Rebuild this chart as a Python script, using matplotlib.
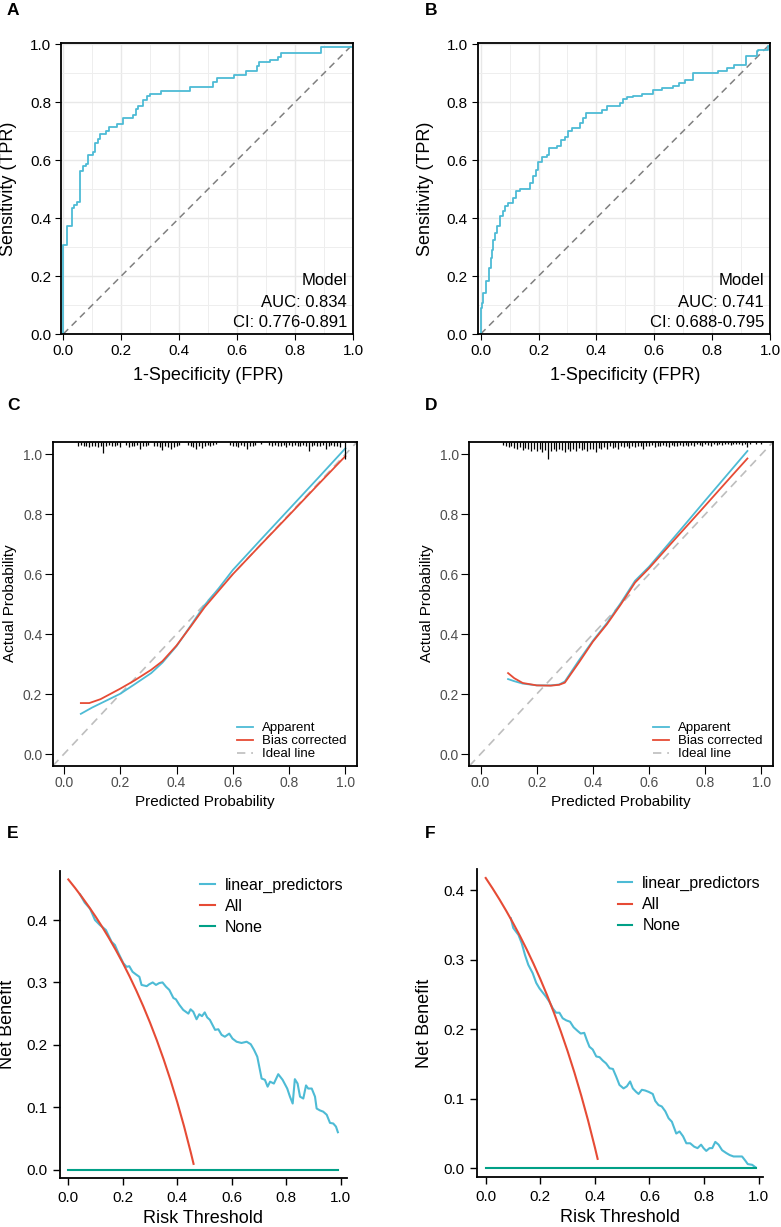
"""ROC, calibration and decision curves for the two cohorts (panels A-F)."""

import matplotlib

matplotlib.use("Agg")
import matplotlib.pyplot as plt
from matplotlib.ticker import FormatStrFormatter, MultipleLocator

plt.rcParams["font.family"] = ["Liberation Sans", "DejaVu Sans"]

BLUE = "#4DBBD5"
RED = "#E64B35"
TEAL = "#00A087"

# ---- ROC curves (A: training, B: validation) ----
roc_a_fpr = [0, 0, 0.0115, 0.029, 0.037, 0.046, 0.0576, 0.067, 0.078, 0.084, 0.101,
             0.109, 0.121, 0.127, 0.148, 0.159, 0.184, 0.205, 0.242, 0.251, 0.259,
             0.276, 0.288, 0.3, 0.336, 0.438, 0.518, 0.53, 0.588, 0.631, 0.668,
             0.677, 0.712, 0.741, 0.752, 0.891, 1.0]
roc_a_tpr = [0, 0.308, 0.371, 0.434, 0.446, 0.457, 0.563, 0.578, 0.587, 0.616, 0.628,
             0.659, 0.672, 0.69, 0.701, 0.713, 0.724, 0.745, 0.756, 0.777, 0.787,
             0.808, 0.82, 0.829, 0.84, 0.851, 0.871, 0.883, 0.894, 0.906, 0.925,
             0.937, 0.946, 0.957, 0.969, 0.989, 1.0]
roc_b_fpr = [0, 0, 0.0035, 0.009, 0.018, 0.029, 0.035, 0.038, 0.044, 0.05, 0.055,
             0.065, 0.078, 0.084, 0.096, 0.113, 0.122, 0.136, 0.17, 0.18, 0.191,
             0.197, 0.211, 0.228, 0.237, 0.263, 0.276, 0.291, 0.303, 0.315, 0.343,
             0.353, 0.364, 0.384, 0.418, 0.435, 0.482, 0.493, 0.505, 0.528, 0.556,
             0.597, 0.626, 0.664, 0.687, 0.706, 0.735, 0.821, 0.85, 0.876, 0.917,
             0.954, 0.96, 0.994, 1.0]
roc_b_tpr = [0, 0.09, 0.107, 0.141, 0.182, 0.228, 0.262, 0.291, 0.325, 0.348, 0.371,
             0.406, 0.423, 0.44, 0.452, 0.469, 0.492, 0.5, 0.521, 0.544, 0.567,
             0.595, 0.61, 0.618, 0.641, 0.649, 0.67, 0.679, 0.699, 0.71, 0.728,
             0.745, 0.762, 0.764, 0.774, 0.785, 0.797, 0.81, 0.817, 0.822, 0.829,
             0.843, 0.848, 0.856, 0.866, 0.877, 0.902, 0.909, 0.917, 0.929, 0.96,
             0.975, 0.98, 0.992, 1.0]
roc_a_auc = "AUC: 0.834"
roc_a_ci = "CI: 0.776-0.891"
roc_b_auc = "AUC: 0.741"
roc_b_ci = "CI: 0.688-0.795"

# ---- Calibration curves (C, D) ----
cal_c_app_x = [0.06, 0.10, 0.15, 0.20, 0.25, 0.31, 0.35, 0.40, 0.45, 0.50, 0.55, 0.60,
               0.70, 0.80, 0.90, 1.00]
cal_c_app_y = [0.134, 0.155, 0.178, 0.201, 0.232, 0.27, 0.305, 0.36, 0.428, 0.497,
               0.553, 0.614, 0.716, 0.817, 0.918, 1.02]
cal_c_bc_x = [0.06, 0.09, 0.13, 0.20, 0.25, 0.31, 0.35, 0.40, 0.45, 0.50, 0.55, 0.60,
              0.70, 0.80, 0.90, 1.00]
cal_c_bc_y = [0.17, 0.17, 0.183, 0.218, 0.245, 0.281, 0.31, 0.362, 0.425, 0.49,
              0.545, 0.6, 0.699, 0.797, 0.896, 0.994]
cal_d_x = [0.098, 0.12, 0.15, 0.20, 0.25, 0.28, 0.30, 0.35, 0.40, 0.45, 0.50, 0.55,
           0.60, 0.70, 0.80, 0.90, 0.95]
cal_d_app_y = [0.25, 0.243, 0.235, 0.229, 0.229, 0.232, 0.242, 0.312, 0.378, 0.437,
               0.505, 0.578, 0.625, 0.735, 0.846, 0.956, 1.011]
cal_d_bc_y = [0.27, 0.253, 0.237, 0.229, 0.228, 0.231, 0.238, 0.305, 0.375, 0.433,
              0.5, 0.572, 0.62, 0.725, 0.829, 0.934, 0.986]

# distribution of predicted probabilities (rug along the top)
rug_c_x = [0.05, 0.06, 0.07, 0.08, 0.09, 0.10, 0.11, 0.12, 0.13, 0.14, 0.15, 0.16,
           0.17, 0.18, 0.19, 0.20, 0.22, 0.23, 0.24, 0.25, 0.26, 0.27, 0.28, 0.29,
           0.30, 0.32, 0.33, 0.34, 0.35, 0.36, 0.37, 0.38, 0.39, 0.40, 0.41, 0.44,
           0.45, 0.46, 0.47, 0.48, 0.49, 0.50, 0.51, 0.52, 0.53, 0.54, 0.59, 0.60,
           0.61, 0.62, 0.63, 0.64, 0.65, 0.66, 0.67, 0.68, 0.70, 0.73, 0.74, 0.75,
           0.76, 0.77, 0.78, 0.79, 0.80, 0.81, 0.82, 0.83, 0.84, 0.85, 0.86, 0.87,
           0.88, 0.89, 0.90, 0.91, 0.92, 0.93, 0.94, 0.95, 0.96, 0.97, 0.98, 1.00]
rug_c_h = [0.011, 0.008, 0.014, 0.011, 0.017, 0.014, 0.011, 0.017, 0.014, 0.037, 0.014,
           0.008, 0.014, 0.011, 0.008, 0.017, 0.008, 0.017, 0.011, 0.014, 0.008, 0.022,
           0.014, 0.011, 0.008, 0.014, 0.011, 0.017, 0.026, 0.014, 0.017, 0.024, 0.017,
           0.011, 0.008, 0.008, 0.014, 0.017, 0.024, 0.011, 0.019, 0.011, 0.008, 0.014,
           0.008, 0.006, 0.008, 0.014, 0.011, 0.017, 0.008, 0.014, 0.022, 0.011, 0.014,
           0.008, 0.007, 0.008, 0.011, 0.008, 0.014, 0.011, 0.008, 0.017, 0.008, 0.011,
           0.008, 0.014, 0.011, 0.008, 0.014, 0.028, 0.011, 0.008, 0.014, 0.011, 0.008,
           0.022, 0.011, 0.008, 0.014, 0.011, 0.017, 0.055]
rug_d_x = [0.08, 0.09, 0.10, 0.11, 0.12, 0.13, 0.14, 0.15, 0.16, 0.17, 0.18, 0.19,
           0.20, 0.21, 0.22, 0.23, 0.24, 0.25, 0.26, 0.27, 0.28, 0.29, 0.30, 0.31,
           0.32, 0.33, 0.34, 0.35, 0.36, 0.37, 0.38, 0.39, 0.40, 0.41, 0.42, 0.43,
           0.44, 0.45, 0.46, 0.47, 0.48, 0.49, 0.50, 0.51, 0.52, 0.53, 0.54, 0.55,
           0.56, 0.57, 0.58, 0.59, 0.60, 0.61, 0.62, 0.63, 0.64, 0.65, 0.66, 0.67,
           0.68, 0.69, 0.70, 0.71, 0.72, 0.73, 0.74, 0.75, 0.76, 0.77, 0.78, 0.79,
           0.80, 0.81, 0.82, 0.83, 0.84, 0.85, 0.86, 0.87, 0.88, 0.89, 0.90, 0.91,
           0.92, 0.93, 0.94, 0.95, 0.96, 0.98, 1.00]
rug_d_h = [0.008, 0.011, 0.016, 0.014, 0.019, 0.024, 0.016, 0.026, 0.019, 0.024, 0.028,
           0.021, 0.030, 0.024, 0.032, 0.026, 0.057, 0.028, 0.021, 0.030, 0.024, 0.026,
           0.032, 0.021, 0.028, 0.024, 0.030, 0.019, 0.026, 0.024, 0.028, 0.021, 0.024,
           0.032, 0.019, 0.024, 0.016, 0.021, 0.014, 0.019, 0.016, 0.021, 0.014, 0.016,
           0.011, 0.019, 0.014, 0.016, 0.011, 0.014, 0.024, 0.011, 0.014, 0.008, 0.016,
           0.011, 0.014, 0.008, 0.011, 0.016, 0.008, 0.011, 0.014, 0.008, 0.011, 0.008,
           0.014, 0.008, 0.011, 0.007, 0.008, 0.011, 0.007, 0.008, 0.011, 0.007, 0.008,
           0.006, 0.008, 0.007, 0.006, 0.008, 0.006, 0.007, 0.006, 0.008, 0.006, 0.016,
           0.006, 0.006, 0.006]

# ---- Decision curves (E, F) ----
dca_e_lp_x = [0.043, 0.06, 0.08, 0.098, 0.116, 0.138, 0.159, 0.171, 0.184, 0.202, 0.214,
              0.224, 0.236, 0.248, 0.261, 0.269, 0.288, 0.297, 0.31, 0.322, 0.334,
              0.346, 0.359, 0.371, 0.386, 0.395, 0.408, 0.422, 0.441, 0.449, 0.459,
              0.471, 0.481, 0.491, 0.501, 0.51, 0.52, 0.539, 0.551, 0.563, 0.575,
              0.591, 0.603, 0.618, 0.636, 0.655, 0.67, 0.682, 0.694, 0.71, 0.722,
              0.732, 0.741, 0.755, 0.771, 0.787, 0.804, 0.814, 0.824, 0.832, 0.842,
              0.851, 0.863, 0.873, 0.881, 0.894, 0.906, 0.912, 0.924, 0.936, 0.949,
              0.961, 0.973, 0.983, 0.99]
dca_e_lp_y = [0.441, 0.428, 0.418, 0.4, 0.392, 0.384, 0.365, 0.36, 0.347, 0.331, 0.325,
              0.326, 0.317, 0.313, 0.309, 0.296, 0.294, 0.297, 0.3, 0.296, 0.299,
              0.3, 0.293, 0.288, 0.275, 0.273, 0.264, 0.256, 0.25, 0.257, 0.253,
              0.241, 0.249, 0.246, 0.252, 0.244, 0.24, 0.224, 0.225, 0.216, 0.213,
              0.218, 0.21, 0.205, 0.203, 0.205, 0.201, 0.192, 0.181, 0.146, 0.144,
              0.133, 0.141, 0.138, 0.153, 0.144, 0.13, 0.117, 0.106, 0.145, 0.138,
              0.117, 0.114, 0.135, 0.13, 0.13, 0.117, 0.098, 0.095, 0.093, 0.088,
              0.075, 0.074, 0.069, 0.06]
dca_e_all_x = [0, 0.025, 0.05, 0.075, 0.1, 0.125, 0.15, 0.175, 0.2, 0.225, 0.25, 0.275,
               0.3, 0.325, 0.35, 0.375, 0.4, 0.425, 0.45, 0.46]
dca_e_all_y = [0.465, 0.4513, 0.4368, 0.4216, 0.4056, 0.3886, 0.3706, 0.3515, 0.3313,
               0.3097, 0.2867, 0.2621, 0.2357, 0.2074, 0.1769, 0.144, 0.1083, 0.0696,
               0.0273, 0.0093]
dca_f_lp_x = [0.092, 0.101, 0.12, 0.132, 0.144, 0.156, 0.172, 0.185, 0.197, 0.209,
              0.221, 0.233, 0.246, 0.258, 0.27, 0.282, 0.295, 0.309, 0.322, 0.336,
              0.348, 0.361, 0.37, 0.38, 0.392, 0.405, 0.417, 0.429, 0.441, 0.454,
              0.466, 0.478, 0.49, 0.505, 0.517, 0.529, 0.539, 0.551, 0.56, 0.572,
              0.584, 0.597, 0.612, 0.621, 0.633, 0.645, 0.658, 0.67, 0.682, 0.698,
              0.71, 0.723, 0.735, 0.749, 0.764, 0.776, 0.789, 0.798, 0.808, 0.82,
              0.83, 0.841, 0.853, 0.866, 0.881, 0.894, 0.908, 0.939, 0.951, 0.96,
              0.976, 0.988]
dca_f_lp_y = [0.36, 0.346, 0.336, 0.324, 0.307, 0.293, 0.281, 0.267, 0.259, 0.253,
              0.247, 0.24, 0.23, 0.224, 0.224, 0.216, 0.213, 0.211, 0.203, 0.198,
              0.194, 0.195, 0.185, 0.175, 0.171, 0.161, 0.16, 0.155, 0.151, 0.144,
              0.143, 0.132, 0.12, 0.115, 0.118, 0.125, 0.115, 0.11, 0.107, 0.113,
              0.112, 0.11, 0.107, 0.097, 0.091, 0.089, 0.082, 0.072, 0.067, 0.05,
              0.053, 0.046, 0.036, 0.036, 0.031, 0.029, 0.034, 0.029, 0.025, 0.029,
              0.029, 0.038, 0.034, 0.026, 0.022, 0.019, 0.017, 0.017, 0.011, 0.006,
              0.005, 0.0015]
dca_f_all_x = [0, 0.025, 0.05, 0.075, 0.1, 0.125, 0.15, 0.175, 0.2, 0.225, 0.25, 0.275,
               0.3, 0.325, 0.35, 0.375, 0.4, 0.41]
dca_f_all_y = [0.418, 0.4031, 0.3874, 0.3708, 0.3533, 0.3349, 0.3153, 0.2946, 0.2725,
               0.249, 0.224, 0.1972, 0.1686, 0.1378, 0.1046, 0.0688, 0.030, 0.0135]
dca_none_x = [0, 0.99]
dca_none_y = [0, 0]

W, H = 781, 1227
fig = plt.figure(figsize=(W / 100, H / 100), dpi=100)


def add_axes_px(left, top, right, bottom):
    return fig.add_axes([left / W, 1 - bottom / H, (right - left) / W, (bottom - top) / H])


def panel_letter(x, y, s):
    fig.text(x / W, 1 - y / H, s, ha="left", va="top", fontsize=12.5, fontweight="bold")


def roc_panel(ax, fpr, tpr, auc_txt, ci_txt, xlo, ylab_x):
    ax.set_xlim(xlo, 1.0)
    ax.set_ylim(0, 1.004)
    for axis in (ax.xaxis, ax.yaxis):
        axis.set_major_locator(MultipleLocator(0.2))
        axis.set_minor_locator(MultipleLocator(0.1))
        axis.set_major_formatter(FormatStrFormatter("%.1f"))
    ax.grid(which="major", color="#E8E8E8", lw=1.0)
    ax.grid(which="minor", color="#EEEEEE", lw=0.7)
    ax.set_axisbelow(True)
    ax.tick_params(which="major", length=4.5, width=0.8, labelsize=11, pad=2.5)
    ax.tick_params(which="minor", length=0)
    for sp in ax.spines.values():
        sp.set_linewidth(1.3)
    ax.plot([0, 1], [0, 1], color="#808080", lw=1.1, dashes=(4.5, 3.2))
    ax.plot(fpr, tpr, drawstyle="steps-post", color=BLUE, lw=1.3)
    ax.text(0.979, 0.184, "Model", ha="right", va="center", fontsize=12)
    ax.text(0.979, 0.11, auc_txt, ha="right", va="center", fontsize=12)
    ax.text(0.979, 0.038, ci_txt, ha="right", va="center", fontsize=12)
    ax.text(ylab_x, 0.5, "Sensitivity (TPR)", transform=ax.transAxes, rotation=90,
            ha="center", va="center", fontsize=13)
    ax.text(0.504, -0.141, "1-Specificity (FPR)", transform=ax.transAxes,
            ha="center", va="center", fontsize=13)


def cal_panel(ax, app_x, app_y, bc_x, bc_y, rug_x, rug_h):
    ax.set_xlim(-0.04, 1.04)
    ax.set_ylim(-0.04, 1.04)
    for axis in (ax.xaxis, ax.yaxis):
        axis.set_major_locator(MultipleLocator(0.2))
        axis.set_major_formatter(FormatStrFormatter("%.1f"))
    ax.tick_params(length=5.5, width=0.8, labelsize=10, labelcolor="#4D4D4D", pad=2)
    for sp in ax.spines.values():
        sp.set_linewidth(1.3)
    ax.plot([-0.04, 1.04], [-0.04, 1.04], color="#BEBEBE", lw=1.2, dashes=(5, 3.5),
            label="Ideal line")
    ax.plot(app_x, app_y, color=BLUE, lw=1.3, label="Apparent")
    ax.plot(bc_x, bc_y, color=RED, lw=1.3, label="Bias corrected")
    ax.vlines(rug_x, [1.04 - h for h in rug_h], 1.04, color="black", lw=0.9)
    handles, labels = ax.get_legend_handles_labels()
    order = [1, 2, 0]
    ax.legend([handles[i] for i in order], [labels[i] for i in order],
              loc="lower right", bbox_to_anchor=(0.966, 0.018), frameon=False,
              fontsize=9.5, handlelength=1.2, handletextpad=0.7, labelspacing=0.05,
              borderpad=0, borderaxespad=0)
    ax.text(-0.14, 0.504, "Actual Probability", transform=ax.transAxes, rotation=90,
            ha="center", va="center", fontsize=11)
    ax.text(0.501, -0.110, "Predicted Probability", transform=ax.transAxes,
            ha="center", va="center", fontsize=11)


def dca_panel(ax, lp_x, lp_y, all_x, all_y, xlim, ylim, ylab_x, leg_anchor):
    ax.set_xlim(*xlim)
    ax.set_ylim(*ylim)
    ax.xaxis.set_major_locator(MultipleLocator(0.2))
    ax.yaxis.set_major_locator(MultipleLocator(0.1))
    ax.xaxis.set_major_formatter(FormatStrFormatter("%.1f"))
    ax.yaxis.set_major_formatter(FormatStrFormatter("%.1f"))
    ax.tick_params(length=5, width=1.0, labelsize=11, pad=4)
    ax.spines["top"].set_visible(False)
    ax.spines["right"].set_visible(False)
    ax.spines["left"].set_linewidth(1.3)
    ax.spines["bottom"].set_linewidth(1.3)
    ax.plot(lp_x, lp_y, color=BLUE, lw=1.5, label="linear_predictors")
    ax.plot(all_x, all_y, color=RED, lw=1.5, label="All")
    ax.plot(dca_none_x, dca_none_y, color=TEAL, lw=1.5, label="None")
    ax.legend(loc="upper right", bbox_to_anchor=leg_anchor, frameon=False, fontsize=11.5,
              handlelength=0.9, handletextpad=0.65, labelspacing=0.38, borderpad=0,
              borderaxespad=0)
    ax.text(ylab_x, 0.5, "Net Benefit", transform=ax.transAxes, rotation=90,
            ha="center", va="center", fontsize=13)
    ax.text(0.5, -0.132, "Risk Threshold", transform=ax.transAxes,
            ha="center", va="center", fontsize=13)


ax_a = add_axes_px(61, 43, 353, 334)
roc_panel(ax_a, roc_a_fpr, roc_a_tpr, roc_a_auc, roc_a_ci, -0.008, -0.1815)
ax_b = add_axes_px(477.7, 43, 770, 334)
roc_panel(ax_b, roc_b_fpr, roc_b_tpr, roc_b_auc, roc_b_ci, -0.0104, -0.180)

ax_c = add_axes_px(52.7, 442.3, 356.7, 766)
cal_panel(ax_c, cal_c_app_x, cal_c_app_y, cal_c_bc_x, cal_c_bc_y, rug_c_x, rug_c_h)
ax_d = add_axes_px(469.3, 442.3, 772.7, 766)
cal_panel(ax_d, cal_d_x, cal_d_app_y, cal_d_x, cal_d_bc_y, rug_d_x, rug_d_h)

ax_e = add_axes_px(60, 870.7, 346.7, 1178.3)
dca_panel(ax_e, dca_e_lp_x, dca_e_lp_y, dca_e_all_x, dca_e_all_y,
          (-0.0305, 1.0224), (-0.0138, 0.479), -0.184, (0.99, 0.978))
ax_f = add_axes_px(476.7, 869.3, 762.7, 1177.3)
dca_panel(ax_f, dca_f_lp_x, dca_f_lp_y, dca_f_all_x, dca_f_all_y,
          (-0.033, 1.0147), (-0.013, 0.4305), -0.181, (0.994, 0.978))

panel_letter(7, 3, "A")
panel_letter(425, 3, "B")
panel_letter(7, 398, "C")
panel_letter(425, 398, "D")
panel_letter(7, 826, "E")
panel_letter(425, 826, "F")

fig.savefig("out.png", dpi=100)
